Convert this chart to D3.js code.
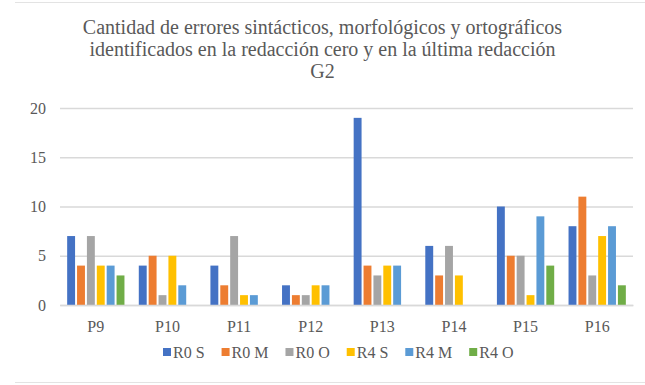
<!DOCTYPE html>
<html>
<head>
<meta charset="utf-8">
<script src="https://cdn.jsdelivr.net/npm/d3@7"></script>
</head>
<body style="margin:0;background:#fff">
<div id="chart"></div>
<script>
const WIDTH = 645;
const HEIGHT = 385;
const MARGINS = {left: 60, right: 12, top: 108, bottom: 80};
const FONT = "'Liberation Serif'";
const TEXT_COLOR = "#595959";

const categories = ["P9", "P10", "P11", "P12", "P13", "P14", "P15", "P16"];
const seriesNames = ["R0 S", "R0 M", "R0 O", "R4 S", "R4 M", "R4 O"];
const seriesColors = ["#4472C4", "#ED7D31", "#A5A5A5", "#FFC000", "#5B9BD5", "#70AD47"];
const r0s = [7, 4, 4, 2, 19, 6, 10, 8];
const r0m = [4, 5, 2, 1, 4, 3, 5, 11];
const r0o = [7, 1, 7, 1, 3, 6, 5, 3];
const r4s = [4, 5, 1, 2, 4, 3, 1, 7];
const r4m = [4, 2, 1, 2, 4, 0, 9, 8];
const r4o = [3, 0, 0, 0, 0, 0, 4, 2];
const yTicks = [0, 5, 10, 15, 20];
const titleLines = [
  "Cantidad de errores sintácticos, morfológicos y ortográficos",
  "identificados en la redacción cero y en la última redacción",
  "G2"
];

const seriesValues = [r0s, r0m, r0o, r4s, r4m, r4o];
const data = [];
categories.forEach((c, i) => {
  seriesNames.forEach((s, j) => {
    data.push({cat: c, series: s, value: seriesValues[j][i]});
  });
});

const VIS_W = WIDTH - MARGINS.left - MARGINS.right;
const VIS_H = HEIGHT - MARGINS.top - MARGINS.bottom;

const svg = d3.select("#chart").append("svg")
  .attr("width", WIDTH)
  .attr("height", HEIGHT)
  .style("display", "block");

// outer frame lines
svg.append("line").attr("x1", 15).attr("x2", WIDTH).attr("y1", 2.5).attr("y2", 2.5)
  .attr("stroke", "#e3e3e3");
svg.append("line").attr("x1", 15).attr("x2", WIDTH).attr("y1", 382.5).attr("y2", 382.5)
  .attr("stroke", "#e3e3e3");

// title
titleLines.forEach((line, i) => {
  svg.append("text")
    .attr("x", WIDTH / 2)
    .attr("y", 34 + i * 22)
    .attr("text-anchor", "middle")
    .style("font-family", FONT)
    .style("font-size", "20px")
    .style("fill", TEXT_COLOR)
    .text(line);
});

const x = d3.scaleBand()
  .domain(categories)
  .range([0, VIS_W])
  .paddingInner(0.2)
  .paddingOuter(0.1);

const xs = d3.scaleBand()
  .domain(seriesNames)
  .range([0, x.bandwidth()])
  .paddingInner(0.2);

const y = d3.scaleLinear()
  .domain([0, 20])
  .range([VIS_H, 0]);

const g = svg.append("g")
  .attr("transform", "translate(" + MARGINS.left + "," + MARGINS.top + ")");

// gridlines
g.append("g")
  .call(d3.axisLeft(y).tickValues(yTicks).tickSize(-VIS_W).tickFormat(""))
  .call(a => a.select(".domain").remove())
  .selectAll("line")
    .attr("stroke", "#d9d9d9")
    .attr("stroke-width", 1.5);

// y labels
g.append("g")
  .call(d3.axisLeft(y).tickValues(yTicks).tickSize(0).tickPadding(14))
  .call(a => a.select(".domain").remove())
  .selectAll("text")
    .style("font-family", FONT)
    .style("font-size", "16px")
    .style("fill", TEXT_COLOR);

// bars
g.selectAll("rect.bar")
  .data(data)
  .enter()
  .append("rect")
    .attr("class", "bar")
    .attr("x", d => x(d.cat) + xs(d.series))
    .attr("y", d => y(d.value))
    .attr("width", xs.bandwidth())
    .attr("height", d => VIS_H - y(d.value))
    .attr("fill", d => seriesColors[seriesNames.indexOf(d.series)]);

// x axis
const xa = g.append("g")
  .attr("transform", "translate(0," + VIS_H + ")")
  .call(d3.axisBottom(x).tickSize(0).tickPadding(16));
xa.select(".domain").attr("stroke", "#d9d9d9").attr("stroke-width", 1.5);
xa.selectAll("text")
  .style("font-family", FONT)
  .style("font-size", "16px")
  .style("fill", TEXT_COLOR);

// legend, laid out left to right by text width
const legend = svg.append("g")
  .attr("transform", "translate(163,0)");
let lx = 0;
seriesNames.forEach((name, i) => {
  const item = legend.append("g").attr("transform", "translate(" + lx + ",358)");
  item.append("rect")
    .attr("x", 0).attr("y", -10)
    .attr("width", 8).attr("height", 8)
    .attr("fill", seriesColors[i]);
  const t = item.append("text")
    .attr("x", 10).attr("y", 0)
    .style("font-family", FONT)
    .style("font-size", "16px")
    .style("fill", TEXT_COLOR)
    .text(name);
  lx += 10 + t.node().getComputedTextLength() + 17;
});
</script>
</body>
</html>
